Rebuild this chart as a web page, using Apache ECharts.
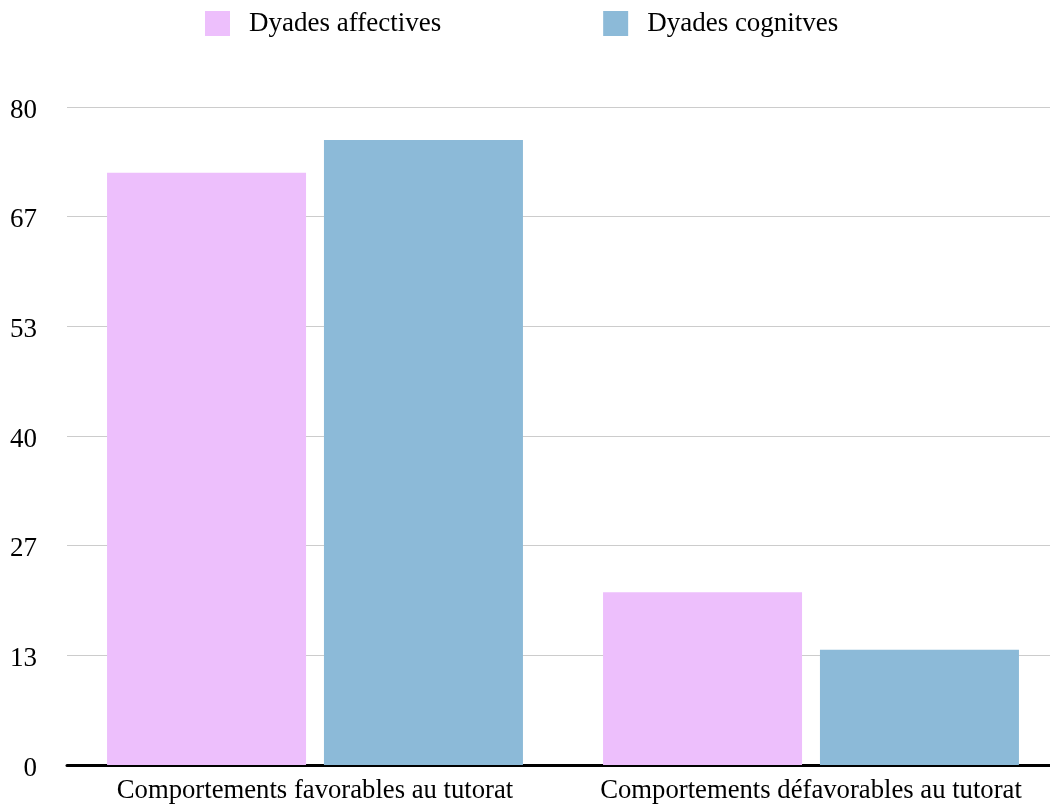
<!DOCTYPE html>
<html>
<head>
<meta charset="utf-8">
<script src="https://cdn.jsdelivr.net/npm/echarts@6/dist/echarts.min.js"></script>
<style>
  html, body { margin: 0; padding: 0; background: #fff; overflow: hidden; }
  /* the plot runs a little past the right edge of the window */
  #chart { width: 1059px; height: 807px; }
</style>
</head>
<body>
<div id="chart"></div>
<script>
// Categories and values per dyad type
const categories = ['Comportements favorables au tutorat', 'Comportements défavorables au tutorat'];
const seriesNames = ['Dyades affectives', 'Dyades cognitves'];
const affectives = [72, 21];
const cognitives = [76, 14];
const yMax = 80;
const yStep = 80 / 6;

const FONT = "'Liberation Serif', 'Times New Roman', serif";
const colors = ['#EDBFFC', '#8CBAD8'];

const chart = echarts.init(document.getElementById('chart'));
chart.setOption({
  animation: false,
  backgroundColor: '#ffffff',
  color: colors,
  textStyle: { fontFamily: FONT, color: '#000' },
  legend: {
    top: 5,
    left: 200,
    icon: 'rect',
    itemWidth: 25,
    itemHeight: 25,
    itemGap: 162,
    textStyle: { fontFamily: FONT, fontSize: 27, color: '#000', padding: [0, 0, 0, 14] },
    data: seriesNames
  },
  grid: { left: 67, top: 107, right: 0, bottom: 42, containLabel: false },
  xAxis: {
    type: 'category',
    data: categories,
    axisTick: { show: false },
    axisLine: { lineStyle: { color: '#000', width: 3 } },
    axisLabel: { fontFamily: FONT, fontSize: 26.7, color: '#000', margin: 12, interval: 0 }
  },
  yAxis: {
    type: 'value',
    min: 0,
    max: yMax,
    interval: yStep,
    axisLine: { show: false },
    axisTick: { show: false },
    splitLine: { lineStyle: { color: '#cccccc', width: 1 } },
    axisLabel: {
      color: '#000', margin: 30,
      formatter: v => '{t|' + Math.round(v) + '}',
      rich: { t: { fontFamily: FONT, fontSize: 27, color: '#000', padding: [7, 0, 0, 0] } }
    }
  },
  series: [
    { name: seriesNames[0], type: 'bar', data: affectives, barWidth: 199, barGap: '9%' },
    { name: seriesNames[1], type: 'bar', data: cognitives, barWidth: 199, barGap: '9%' }
  ]
});
</script>
</body>
</html>
